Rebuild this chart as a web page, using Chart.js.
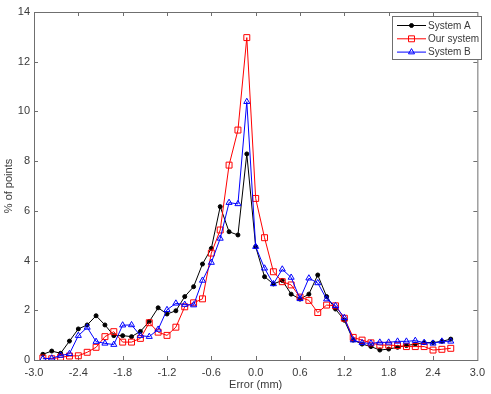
<!DOCTYPE html>
<html>
<head>
<meta charset="utf-8">
<script src="https://cdn.jsdelivr.net/npm/chart.js@4"></script>
<style>
  body { margin: 0; background: #fff; }
  #wrap { width: 491px; height: 394px; }
</style>
</head>
<body>
<div id="wrap"><canvas id="chart"></canvas></div>
<script>
// bin centres (mm) and % of points per bin
const errorMm = [-2.88, -2.76, -2.64, -2.52, -2.40, -2.28, -2.16, -2.04, -1.92, -1.80,
  -1.68, -1.56, -1.44, -1.32, -1.20, -1.08, -0.96, -0.84, -0.72, -0.60,
  -0.48, -0.36, -0.24, -0.12, 0.00, 0.12, 0.24, 0.36, 0.48, 0.60,
  0.72, 0.84, 0.96, 1.08, 1.20, 1.32, 1.44, 1.56, 1.68, 1.80,
  1.92, 2.04, 2.16, 2.28, 2.40, 2.52, 2.64];
const systemA = [0.23, 0.36, 0.27, 0.76, 1.25, 1.41, 1.78, 1.41, 0.98, 0.98,
  0.94, 1.15, 1.55, 2.10, 1.85, 1.98, 2.55, 2.95, 3.86, 4.49,
  6.17, 5.16, 5.03, 8.29, 4.56, 3.35, 3.06, 3.20, 2.65, 2.45,
  2.65, 3.42, 2.55, 2.05, 1.60, 0.80, 0.64, 0.54, 0.40, 0.44,
  0.51, 0.58, 0.64, 0.70, 0.70, 0.75, 0.84];
const ourSystem = [0.08, 0.05, 0.11, 0.16, 0.17, 0.31, 0.51, 0.94, 1.14, 0.72,
  0.72, 0.87, 1.50, 1.12, 0.99, 1.32, 2.14, 2.30, 2.46, 4.30,
  5.23, 7.84, 9.25, 12.97, 6.50, 4.92, 3.55, 3.15, 3.02, 2.53,
  2.40, 1.91, 2.21, 2.18, 1.68, 0.91, 0.80, 0.69, 0.60, 0.60,
  0.58, 0.54, 0.54, 0.54, 0.40, 0.43, 0.47];
const systemB = [0.05, 0.07, 0.18, 0.25, 0.98, 1.31, 0.74, 0.67, 0.62, 1.40,
  1.41, 0.98, 0.94, 1.23, 2.02, 2.28, 2.23, 2.21, 3.20, 3.92,
  4.89, 6.33, 6.28, 10.39, 4.56, 3.69, 3.06, 3.65, 3.32, 2.46,
  3.29, 3.10, 2.45, 2.18, 1.70, 0.80, 0.69, 0.67, 0.71, 0.71,
  0.75, 0.75, 0.78, 0.70, 0.67, 0.75, 0.75];
const xTicks = [-3.0, -2.4, -1.8, -1.2, -0.6, 0.0, 0.6, 1.2, 1.8, 2.4, 3.0];
const yTicks = [0, 2, 4, 6, 8, 10, 12, 14];

const axisColor = '#6f6f6f';
const textColor = '#3a3a3a';
const font = { family: "'Liberation Sans', Arial, sans-serif", size: 11 };

const toPoints = vals => errorMm.map((x, i) => ({ x: x, y: vals[i] }));

// MATLAB style box with inward ticks on all four sides
const frame = {
  id: 'frame',
  beforeDatasetsDraw(chart) {
    const { ctx, chartArea: a, scales: { x, y } } = chart;
    ctx.save();
    ctx.strokeStyle = axisColor;
    ctx.lineWidth = 1;
    ctx.strokeRect(a.left + 0.5, a.top + 0.5, a.right - a.left, a.bottom - a.top);
    ctx.beginPath();
    xTicks.slice(1, -1).forEach(v => {
      const px = Math.round(x.getPixelForValue(v)) + 0.5;
      ctx.moveTo(px, a.bottom); ctx.lineTo(px, a.bottom - 4);
      ctx.moveTo(px, a.top); ctx.lineTo(px, a.top + 4);
    });
    yTicks.slice(1, -1).forEach(v => {
      const py = Math.round(y.getPixelForValue(v)) + 0.5;
      ctx.moveTo(a.left, py); ctx.lineTo(a.left + 4, py);
      ctx.moveTo(a.right, py); ctx.lineTo(a.right - 4, py);
    });
    ctx.stroke();
    ctx.restore();
  }
};

// legend box in the top right corner
const boxLegend = {
  id: 'boxLegend',
  afterDraw(chart) {
    const ctx = chart.ctx;
    const left = 392, top = 16, w = 89, h = 43;
    ctx.save();
    ctx.fillStyle = '#fff';
    ctx.fillRect(left, top, w, h);
    ctx.strokeStyle = axisColor;
    ctx.lineWidth = 1;
    ctx.strokeRect(left + 0.5, top + 0.5, w, h);
    chart.data.datasets.forEach((ds, i) => {
      const cy = top + 9.5 + i * 13.3;
      ctx.strokeStyle = ds.borderColor;
      ctx.beginPath();
      ctx.moveTo(left + 5, cy); ctx.lineTo(left + 34, cy);
      ctx.stroke();
      ctx.fillStyle = ds.pointBackgroundColor;
      Chart.helpers.drawPoint(ctx, {
        pointStyle: ds.pointStyle, radius: ds.pointRadius,
        rotation: 0, borderWidth: 1
      }, left + 19.5, cy);
      ctx.fillStyle = textColor;
      ctx.font = "10px 'Liberation Sans', Arial, sans-serif";
      ctx.textBaseline = 'middle';
      ctx.fillText(ds.label, left + 36, cy + 0.5);
    });
    ctx.restore();
  }
};

new Chart(document.getElementById('chart'), {
  type: 'line',
  data: {
    datasets: [
      {
        label: 'System A', data: toPoints(systemA), order: 3,
        borderColor: '#000', borderWidth: 1, pointStyle: 'circle', pointRadius: 2,
        pointBackgroundColor: '#000', pointBorderColor: '#000', pointBorderWidth: 1
      },
      {
        label: 'Our system', data: toPoints(ourSystem), order: 2,
        borderColor: '#ff0000', borderWidth: 1, pointStyle: 'rect', pointRadius: 4.2,
        pointBackgroundColor: 'rgba(0,0,0,0)', pointBorderColor: '#ff0000', pointBorderWidth: 1
      },
      {
        label: 'System B', data: toPoints(systemB), order: 1,
        borderColor: '#0000ff', borderWidth: 1, pointStyle: 'triangle', pointRadius: 3.5,
        pointBackgroundColor: 'rgba(0,0,0,0)', pointBorderColor: '#0000ff', pointBorderWidth: 1
      }
    ]
  },
  options: {
    responsive: true,
    maintainAspectRatio: false,
    animation: false,
    layout: { padding: { top: 12, right: 6, bottom: 0, left: 0 }, autoPadding: false },
    plugins: { legend: { display: false }, tooltip: { enabled: false } },
    elements: { line: { tension: 0 } },
    scales: {
      x: {
        type: 'linear', min: -3, max: 3,
        afterBuildTicks: s => { s.ticks = xTicks.map(v => ({ value: v })); },
        afterFit: s => { s.height = 34; },
        grid: { display: false, drawTicks: false },
        border: { display: false },
        ticks: { font: font, color: textColor, padding: 6, maxRotation: 0, autoSkip: false,
          callback: v => v.toFixed(1) },
        title: { display: true, text: 'Error (mm)', font: font, color: textColor,
          padding: { top: 0, bottom: 2 } }
      },
      y: {
        type: 'linear', min: 0, max: 14,
        afterBuildTicks: s => { s.ticks = yTicks.map(v => ({ value: v })); },
        afterFit: s => { s.width = 34; },
        grid: { display: false, drawTicks: false },
        border: { display: false },
        ticks: { font: font, color: textColor, padding: 4, autoSkip: false },
        title: { display: true, text: '% of points', font: font, color: textColor,
          padding: { top: 2, bottom: 0 } }
      }
    }
  },
  plugins: [frame, boxLegend]
});
</script>
</body>
</html>
